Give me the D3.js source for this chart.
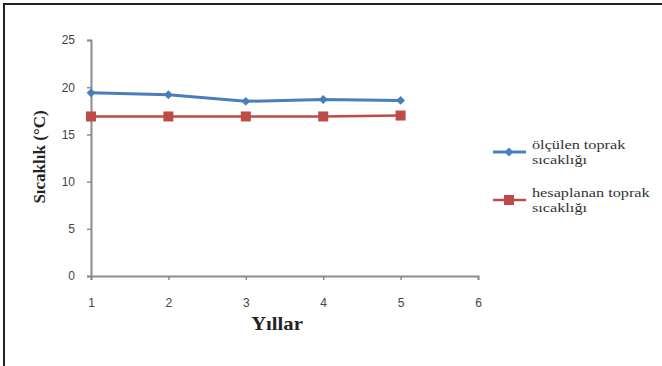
<!DOCTYPE html>
<html>
<head>
<meta charset="utf-8">
<script src="https://cdn.jsdelivr.net/npm/d3@7"></script>
<style>
  html, body { margin: 0; padding: 0; background: #fff; }
  svg { display: block; }
  .serif { font-family: "Liberation Serif", "Times New Roman", "DejaVu Serif", serif; }
</style>
</head>
<body>
<svg id="chart" width="662" height="366"></svg>
<script>
// Yearly soil temperature: measured vs calculated
const years = [1, 2, 3, 4, 5];
const xTicks = [1, 2, 3, 4, 5, 6];
const yTicks = [0, 5, 10, 15, 20, 25];
const measured = [19.4, 19.2, 18.5, 18.7, 18.6];
const calculated = [16.9, 16.9, 16.9, 16.9, 17.0];
const seriesNames = [["ölçülen toprak", "sıcaklığı"], ["hesaplanan toprak", "sıcaklığı"]];
const xTitle = "Yıllar";
const yTitle = "Sıcaklık (°C)";

const blue = "#4a7ebb";
const red = "#be4b48";
const axisColor = "#8c8c8c";

const svg = d3.select("#chart");

// frame edges
svg.append("line").attr("x1", 4).attr("y1", 3).attr("x2", 4).attr("y2", 366)
  .attr("stroke", "#222").attr("stroke-width", 2);
svg.append("line").attr("x1", 3).attr("y1", 4).attr("x2", 662).attr("y2", 4)
  .attr("stroke", "#222").attr("stroke-width", 2);

const x = d3.scaleLinear().domain([1, 6]).range([91, 478]);
const y = d3.scaleLinear().domain([0, 25]).range([276, 40]);

// y axis
const yAxis = svg.append("g").attr("transform", `translate(${x(1)},0)`)
  .call(d3.axisLeft(y).tickValues(yTicks).tickSize(4).tickPadding(12));
yAxis.select(".domain").attr("stroke", axisColor).attr("stroke-width", 2);
yAxis.selectAll(".tick line").attr("stroke", axisColor).attr("stroke-width", 1.5);
yAxis.selectAll(".tick text").attr("fill", "#444")
  .style("font-family", "'Liberation Sans', Arial, sans-serif").style("font-size", "12px");

// x axis
const xAxis = svg.append("g").attr("transform", `translate(0,${y(0)})`)
  .call(d3.axisBottom(x).tickValues(xTicks).tickFormat(d3.format("d")).tickSize(4).tickPadding(18));
xAxis.select(".domain").attr("stroke", axisColor).attr("stroke-width", 2);
xAxis.selectAll(".tick line").attr("stroke", axisColor).attr("stroke-width", 1.5);
xAxis.selectAll(".tick text").attr("fill", "#444")
  .style("font-family", "'Liberation Sans', Arial, sans-serif").style("font-size", "12px");

// axis titles
svg.append("text").attr("class", "serif")
  .attr("transform", "translate(277,330) scale(1.15,1)").attr("text-anchor", "middle")
  .style("font-size", "18px").style("font-weight", "bold").attr("fill", "#222")
  .text(xTitle);
svg.append("text").attr("class", "serif")
  .attr("transform", "translate(45,157) rotate(-90)").attr("text-anchor", "middle")
  .style("font-size", "17px").style("font-weight", "bold").attr("fill", "#222")
  .text(yTitle);

const line = d3.line().x((d, i) => x(years[i])).y(d => y(d));

// calculated series (red, squares)
svg.append("path").datum(calculated).attr("d", line)
  .attr("fill", "none").attr("stroke", red).attr("stroke-width", 2.5);
svg.append("g").selectAll("rect").data(calculated).join("rect")
  .attr("x", (d, i) => x(years[i]) - 5).attr("y", d => y(d) - 5)
  .attr("width", 10).attr("height", 10).attr("fill", red);

// measured series (blue, diamonds)
svg.append("path").datum(measured).attr("d", line)
  .attr("fill", "none").attr("stroke", blue).attr("stroke-width", 3);
const diamond = d3.symbol().type(d3.symbolDiamond2).size(50);
svg.append("g").selectAll("path").data(measured).join("path")
  .attr("transform", (d, i) => `translate(${x(years[i])},${y(d)})`)
  .attr("d", diamond).attr("fill", blue);

// legend
const legend = svg.append("g");
const legendRows = [
  { color: blue, y: 152, shape: "diamond", names: seriesNames[0] },
  { color: red, y: 200, shape: "square", names: seriesNames[1] }
];
legendRows.forEach(r => {
  legend.append("line").attr("x1", 493).attr("x2", 526).attr("y1", r.y).attr("y2", r.y)
    .attr("stroke", r.color).attr("stroke-width", r.shape === "diamond" ? 3 : 2.5);
  if (r.shape === "diamond") {
    legend.append("path").attr("transform", `translate(509,${r.y})`).attr("d", diamond).attr("fill", r.color);
  } else {
    legend.append("rect").attr("x", 504).attr("y", r.y - 5).attr("width", 10).attr("height", 10).attr("fill", r.color);
  }
  const t = legend.append("text").attr("class", "serif")
    .attr("transform", `translate(532,${r.y - 3}) scale(1.25,1)`)
    .style("font-size", "13px").attr("fill", "#333");
  t.append("tspan").attr("x", 0).attr("dy", 0).text(r.names[0]);
  t.append("tspan").attr("x", 0).attr("dy", 15).text(r.names[1]);
});
</script>
</body>
</html>
